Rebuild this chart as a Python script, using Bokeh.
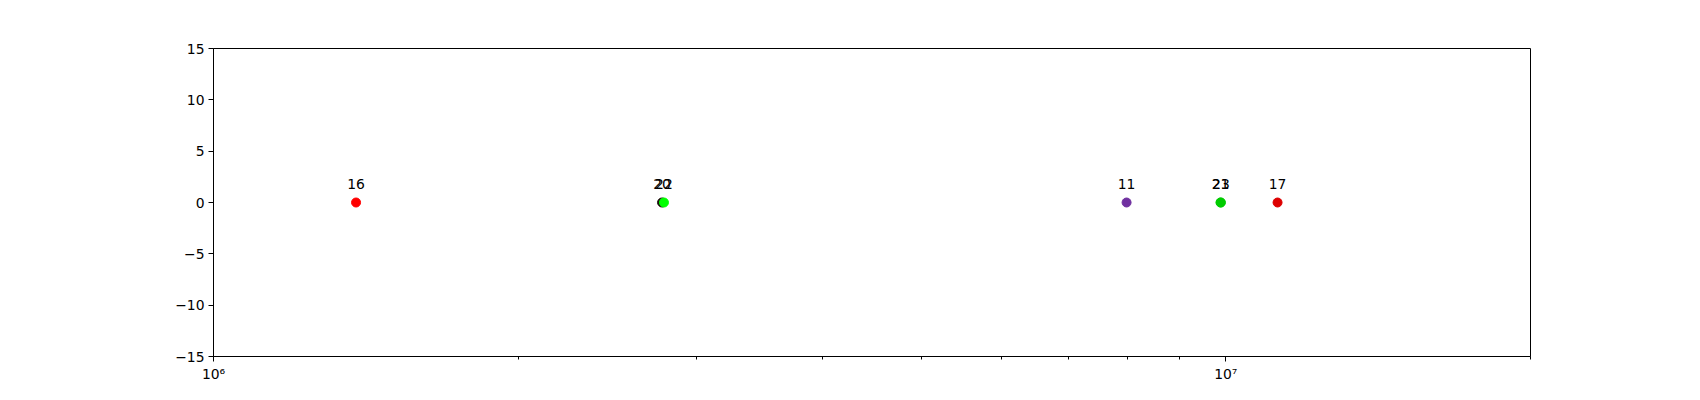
from bokeh.plotting import figure
from bokeh.models import ColumnDataSource, FixedTicker, Range1d
from bokeh.core.properties import value
from bokeh.embed import file_html
from bokeh.resources import INLINE

# Data
labels = ["16", "20", "22", "11", "21", "23", "17"]
x_values = [1.383e6, 2.774e6, 2.786e6, 7.98e6, 9.88e6, 9.89e6, 1.125e7]
y_values = [0, 0, 0, 0, 0, 0, 0]
colors = ["#ff0000", "#1a0a0a", "#00ff00", "#7030a0", "#00cc00", "#00cc00", "#dd0000"]

x_major_ticks = [1e6, 1e7]
x_minor_ticks = [2e6, 3e6, 4e6, 5e6, 6e6, 7e6, 8e6, 9e6, 2e7]
x_tick_labels = ["10⁶", "10⁷"]
y_ticks = [-15, -10, -5, 0, 5, 10, 15]
y_tick_labels = ["−15", "−10", "−5", "0", "5", "10", "15"]

src = ColumnDataSource(dict(x=x_values, y=y_values, label=labels, color=colors))

p = figure(
    x_axis_type="log",
    x_range=Range1d(1e6, 2e7),
    y_range=Range1d(-15, 15),
    frame_width=1317,
    frame_height=308,
    min_border_left=213,
    min_border_right=154,
    min_border_top=48,
    min_border_bottom=28,
    output_backend="svg",
    toolbar_location=None,
    background_fill_color="white",
    border_fill_color="white",
)

p.xgrid.visible = False
p.ygrid.visible = False
p.outline_line_color = "black"
p.outline_line_alpha = 1.0
p.outline_line_width = 1

p.xaxis.ticker = FixedTicker(ticks=x_major_ticks, minor_ticks=x_minor_ticks)
p.xaxis.major_label_overrides = {t: l for t, l in zip(x_major_ticks, x_tick_labels)}
p.yaxis.ticker = FixedTicker(ticks=y_ticks)
p.yaxis.major_label_overrides = {t: l for t, l in zip(y_ticks, y_tick_labels)}

for ax in (p.xaxis, p.yaxis):
    ax.axis_line_color = "black"
    ax.major_tick_line_color = "black"
    ax.minor_tick_line_color = "black"
    ax.major_tick_in = 0
    ax.major_tick_out = 5
    ax.minor_tick_in = 0
    ax.minor_tick_out = 3
    ax.major_label_text_font = "DejaVu Sans"
    ax.major_label_text_font_size = "13.9px"
    ax.major_label_text_color = "black"
    ax.major_label_standoff = 4
p.yaxis.minor_tick_line_color = None

p.scatter("x", "y", source=src, size=9, fill_color="color", line_color="color")
p.text("x", "y", text="label", source=src, text_align="center",
       text_baseline="alphabetic", y_offset=-19,
       text_font=value("DejaVu Sans"), text_font_size="13.9px", text_color="black")

open("out.html", "w").write(file_html(p, INLINE))
